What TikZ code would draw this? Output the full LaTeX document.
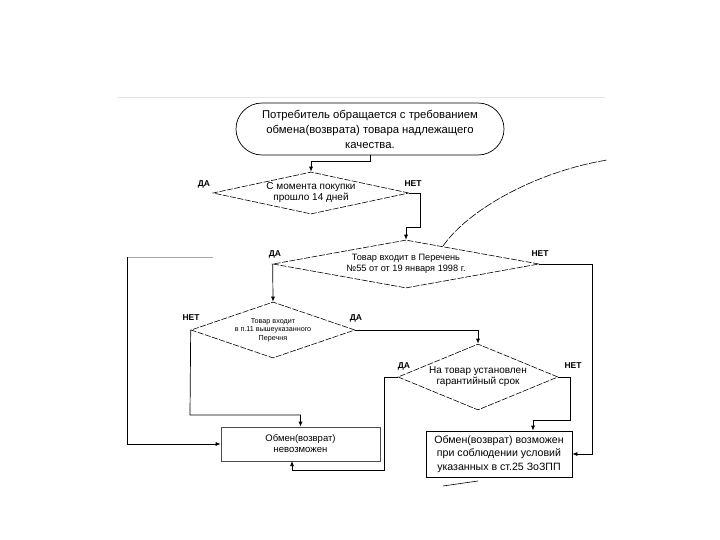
\documentclass[tikz,border=0pt]{standalone}
\usepackage{fontspec}
\setmainfont{Liberation Sans}
\usepackage{tikz}
\usetikzlibrary{shapes,arrows,positioning,calc,arrows.meta}

\begin{document}
\begin{tikzpicture}[x=1pt,y=-1pt,
    line/.style={draw, line width=0.7pt},
    arr/.style={line, -{Latex[length=5pt,width=4pt]}},
    rhomb/.style={draw, diamond, inner sep=0pt, line width=0.6pt, dash pattern=on 6pt off 1.5pt, align=center, font=\fontsize{9.5}{11}\selectfont},
    box/.style={draw, rectangle, inner sep=0pt, line width=0.7pt, align=center, font=\fontsize{9.5}{11}\selectfont},
    answer/.style={font=\bfseries\fontsize{8.5}{10}\selectfont}]
    \useasboundingbox (0,0) rectangle (720,540);
    % Slide rule and stray strokes
    \draw [gray!20, line width=0.8pt] (118,97) -- (605,97);
    \draw [line width=0.6pt, dash pattern=on 8pt off 1.5pt] (443,246) .. controls (468,210) and (535,172) .. (607,160);
    \draw [line width=0.6pt] (443,486) -- (478,481);

    % Start
    \node [draw, rectangle, rounded corners=26pt, line width=0.7pt, minimum width=268pt, minimum height=52pt, align=center, font=\fontsize{11.3}{15}\selectfont] (start) at (370,129)
        {Потребитель обращается с требованием\\обмена(возврата) товара надлежащего\\качества.};

    % Questions
    \node [rhomb, aspect=4.6, minimum width=196pt, minimum height=42pt, font=\fontsize{10}{11}\selectfont] (q14) at (311,193) {С момента покупки\\прошло 14 дней};
    \node [rhomb, aspect=5.5, minimum width=266pt, minimum height=48pt, font=\fontsize{9.2}{10.5}\selectfont] (list) at (406,264) {Товар входит в Перечень\\№55 от от 19 января 1998 г.};
    \node [rhomb, aspect=3, minimum width=164pt, minimum height=56pt, font=\fontsize{7.2}{8.5}\selectfont] (p11) at (273,330) {Товар входит\\в п.11 вышеуказанного\\Перечня};
    \node [rhomb, aspect=2.5, minimum width=160pt, minimum height=66pt, font=\fontsize{10}{11}\selectfont] (warr) at (478,377) {На товар установлен\\гарантийный срок};

    % Answers
    \node [draw=black!70, box, minimum width=159pt, minimum height=34pt] (no) at (300.5,444) {Обмен(возврат)\\невозможен};
    \node [box, minimum width=146pt, minimum height=46pt, font=\fontsize{10.6}{13.5}\selectfont] (yes) at (499,454) {Обмен(возврат) возможен\\при соблюдении условий\\указанных в ст.25 ЗоЗПП};

    % Labels
    \node [answer] (q14da) at (204,184) {ДА};     \node [answer] (q14net) at (413,184) {НЕТ};
    \node [answer] (listda) at (275,254) {ДА};    \node [answer] (listnet) at (540,254) {НЕТ};
    \node [answer] (p11net) at (191,318) {НЕТ};   \node [answer] (p11da) at (356,318) {ДА};
    \node [answer] (warrda) at (404,366) {ДА};    \node [answer] (warrnet) at (573,366) {НЕТ};

    % Connectors
    \draw [arr] (start.south) -- ++(0,6) -| (q14.north);
    \draw [arr] (q14.east) -- (420,193) -- (420,227) -| (list.north);
    \draw [arr] (list.west) -- (p11.north);
    \draw [arr] (list.east) -- (592,264) |- (yes.east);
    \draw [arr] (p11.east) -| (warr.north);
    \draw [arr] (p11.west) -- (190,415) -| (no.north);
    \draw [arr] (warr.west) -- (384,377) |- (292,470) -- (292,461);
    \draw [arr] (warr.east) -- (570,377) |- (533,420) -- (yes.north -| 533,0);
    \draw [line, gray!70] (213,257) -- (127,257);
    \draw [arr] (127,257) |- (no.west);
\end{tikzpicture}
\end{document}
